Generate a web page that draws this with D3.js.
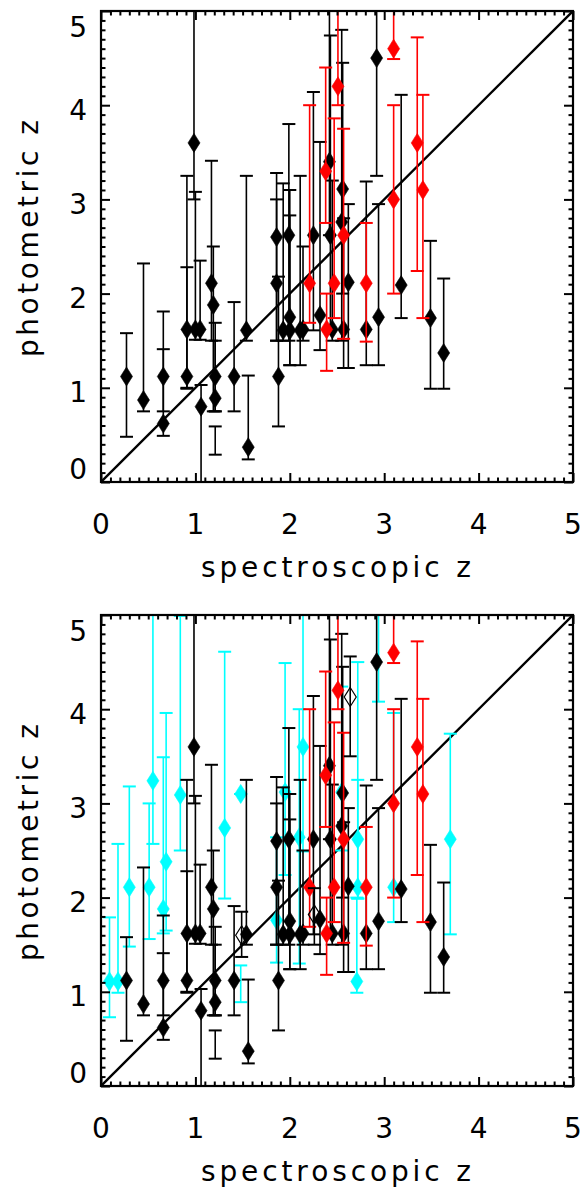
<!DOCTYPE html>
<html><head><meta charset="utf-8">
<script src="https://cdn.jsdelivr.net/npm/d3@7"></script>
<style>html,body{margin:0;padding:0;background:#fff}svg{display:block}</style>
</head><body>
<script>
// ---- data ----
const xTicks = [0,1,2,3,4,5];
const yTicks = [0,1,2,3,4,5];

const blackZs = [0.27,0.45,0.66,0.66,0.91,0.91,0.985,1.00,1.05,1.06,1.17,1.19,1.21,1.21,1.41,1.54,1.56,1.86,1.86,1.88,1.93,2.00,2.00,1.99,2.11,2.14,2.25,2.32,2.42,2.43,2.45,2.55,2.56,2.57,2.62,2.81,2.92,2.94,3.18,3.49,3.63];
const blackZp = [1.12,0.87,1.12,0.62,1.62,1.12,3.60,1.62,1.62,0.80,2.11,1.88,1.12,0.89,1.12,1.61,0.37,2.60,2.11,1.12,1.61,1.61,1.75,2.62,1.61,1.62,2.62,1.77,3.40,2.62,1.62,2.76,3.11,1.62,2.12,1.62,4.50,1.75,2.09,1.74,1.37];
const blackLo = [0.48,0.75,0.75,0.49,1.00,0.99,3.00,1.51,1.51,-0.2,1.50,0.75,0.75,0.75,0.75,1.50,0.24,1.50,1.50,0.59,1.50,1.24,1.24,1.50,1.24,1.50,1.61,1.40,2.62,1.62,1.50,1.50,2.00,1.21,1.21,1.24,3.25,1.24,1.74,0.99,0.99];
const blackHi = [1.58,2.32,1.81,1.41,3.25,2.28,5.30,3.08,2.35,1.03,3.41,2.50,1.69,1.50,1.91,3.25,1.13,3.28,3.00,2.18,3.17,3.10,2.83,3.80,3.25,2.50,4.14,3.61,5.30,4.74,3.20,4.80,4.45,2.80,2.95,3.19,5.30,2.95,4.11,2.56,2.16];

const redZs = [2.21,2.38,2.39,2.47,2.51,2.57,2.81,3.10,3.10,3.35,3.41];
const redZp = [2.11,3.30,1.62,2.11,4.20,2.62,2.11,3.00,4.60,3.60,3.10];
const redLo = [1.69,2.75,1.18,1.74,4.00,1.52,1.49,2.00,4.49,2.24,1.74];
const redHi = [4.00,4.40,2.00,3.86,5.30,3.75,2.75,4.00,5.30,4.72,4.11];

const cyanZs = [0.09,0.18,0.30,0.51,0.55,0.66,0.69,0.84,1.31,1.48,1.86,1.95,2.10,2.14,2.55,2.72,2.72,2.71,2.94,3.10,3.70];
const cyanZp = [1.11,1.11,2.11,2.11,3.24,1.88,2.38,3.09,2.74,3.10,1.76,3.12,2.64,3.60,3.12,2.62,2.11,1.11,5.40,2.11,2.62];
const cyanLo = [0.73,0.99,1.48,1.56,2.57,1.62,1.65,2.50,1.99,3.10,1.31,2.24,1.30,2.49,2.50,1.99,1.99,0.99,4.08,1.74,1.61];
const cyanHi = [1.79,2.57,3.18,3.00,5.30,3.49,3.96,4.99,4.61,3.10,2.64,4.49,4.00,5.30,4.24,4.50,3.25,2.00,5.60,3.96,3.74];

const openZs = [1.49,2.26,2.64];
const openZp = [1.60,1.82,4.13];
const openLo = [1.37,1.50,3.50];
const openHi = [1.85,2.10,4.56];

// error bars drawn without a symbol
const blackBarZs = [1.21];
const blackBarLo = [0.29];
const blackBarHi = [0.59];
const cyanBarZs = [1.48];
const cyanBarLo = [0.89];
const cyanBarHi = [1.28];

// ---- drawing ----
const W = 585, H = 1188;
const svg = d3.select("body").append("svg").attr("width", W).attr("height", H);
const FONT = "DejaVu Sans";

function zip(zs, zp, lo, hi){ return zs.map((d,i)=>({x:d, y:zp?zp[i]:null, lo:lo[i], hi:hi[i]})); }

const blackPts = zip(blackZs, blackZp, blackLo, blackHi);
const redPts = zip(redZs, redZp, redLo, redHi);
const cyanPts = zip(cyanZs, cyanZp, cyanLo, cyanHi);
const openPts = zip(openZs, openZp, openLo, openHi);
const blackBars = zip(blackBarZs, null, blackBarLo, blackBarHi);
const cyanBars = zip(cyanBarZs, null, cyanBarLo, cyanBarHi);

const panels = [
  {top: 11, bottom: 482, layers: [
    {pts: blackBars, color:"#000", marker:false},
    {pts: blackPts, color:"#000", marker:"fill"},
    {pts: redPts, color:"#ff0000", marker:"fill"}
  ]},
  {top: 615, bottom: 1086, layers: [
    {pts: cyanBars, color:"#00ffff", marker:false},
    {pts: cyanPts, color:"#00ffff", marker:"fill"},
    {pts: blackBars, color:"#000", marker:false},
    {pts: blackPts, color:"#000", marker:"fill"},
    {pts: redPts, color:"#ff0000", marker:"fill"},
    {pts: openPts, color:"#000", marker:"open"}
  ]}
];

const L = 101, R = 573;
const diamond = "M0,-9.5L6,0L0,9.5L-6,0Z";

panels.forEach((p, pi) => {
  const x = d3.scaleLinear().domain([0,5]).range([L, R]);
  const y = d3.scaleLinear().domain([0,5]).range([p.bottom, p.top]);
  const g = svg.append("g");
  const clipId = "clip" + pi;
  svg.append("clipPath").attr("id", clipId).append("rect")
    .attr("x", L).attr("y", p.top).attr("width", R - L).attr("height", p.bottom - p.top);
  const plot = g.append("g").attr("clip-path", `url(#${clipId})`);

  // diagonal
  plot.append("line")
    .attr("x1", x(0)).attr("y1", y(0)).attr("x2", x(5)).attr("y2", y(5))
    .attr("stroke", "#000").attr("stroke-width", 2.4);

  p.layers.forEach(layer => {
    const lg = plot.append("g");
    const pts = layer.pts;
    lg.selectAll("line.bar").data(pts).join("line").attr("class","bar")
      .attr("x1", d=>x(d.x)).attr("x2", d=>x(d.x))
      .attr("y1", d=>y(d.lo)).attr("y2", d=>y(d.hi))
      .attr("stroke", layer.color).attr("stroke-width", 1.6);
    ["lo","hi"].forEach(k => {
      lg.selectAll("line.cap"+k).data(pts).join("line").attr("class","cap"+k)
        .attr("x1", d=>x(d.x)-6.5).attr("x2", d=>x(d.x)+6.5)
        .attr("y1", d=>y(d[k])).attr("y2", d=>y(d[k]))
        .attr("stroke", layer.color).attr("stroke-width", 2);
    });
    if (layer.marker) {
      lg.selectAll("path.mk").data(pts).join("path").attr("class","mk")
        .attr("d", diamond)
        .attr("transform", d=>`translate(${x(d.x)},${y(d.y)})`)
        .attr("fill", layer.marker === "fill" ? layer.color : "none")
        .attr("stroke", layer.color)
        .attr("stroke-width", layer.marker === "fill" ? 0.6 : 1.2);
    }
  });

  // ticks (inward on all four sides)
  const minor = d3.range(0, 50).map(i => i/10).filter(v => Math.abs(v - Math.round(v)) > 1e-6);
  const axes = g.append("g");
  function addAxis(axisFn, scale, tr, values, size){
    const a = axes.append("g").attr("transform", tr)
      .call(axisFn(scale).tickValues(values).tickSize(-size).tickFormat(""));
    a.select(".domain").remove();
    a.selectAll(".tick line").attr("stroke", "#000").attr("stroke-width", 2);
  }
  [[xTicks, 9],[minor, 4.5]].forEach(([vals, sz]) => {
    addAxis(d3.axisBottom, x, `translate(0,${p.bottom})`, vals, sz);
    addAxis(d3.axisTop, x, `translate(0,${p.top})`, vals, sz);
    addAxis(d3.axisLeft, y, `translate(${L},0)`, vals, sz);
    addAxis(d3.axisRight, y, `translate(${R},0)`, vals, sz);
  });

  // frame
  g.append("rect").attr("x", L).attr("y", p.top).attr("width", R-L).attr("height", p.bottom-p.top)
    .attr("fill", "none").attr("stroke", "#000").attr("stroke-width", 2.2);

  // tick labels
  g.selectAll("text.xl").data(xTicks).join("text").attr("class","xl")
    .attr("x", d=>x(d)).attr("y", p.bottom + 52)
    .attr("text-anchor", "middle").attr("font-family", FONT).attr("font-size", 28)
    .text(d=>d);
  g.selectAll("text.yl").data(yTicks).join("text").attr("class","yl")
    .attr("x", 87)
    .attr("y", d => Math.max(p.top + 15, Math.min(p.bottom - 14, y(d) + 4)) + 10.5)
    .attr("text-anchor", "end").attr("font-family", FONT).attr("font-size", 28)
    .text(d=>d);

  // axis titles
  g.append("text").attr("x", 336).attr("y", p.bottom + 95)
    .attr("text-anchor", "middle").attr("font-family", FONT).attr("font-size", 28)
    .attr("textLength", 270).attr("lengthAdjust", "spacing")
    .text("spectroscopic  z");
  const cy = (p.top + p.bottom)/2 - 8;
  g.append("text").attr("transform", `translate(38,${cy}) rotate(-90)`)
    .attr("text-anchor", "middle").attr("font-family", FONT).attr("font-size", 28)
    .attr("textLength", 237).attr("lengthAdjust", "spacing")
    .text("photometric  z");
});
</script>
</body></html>
